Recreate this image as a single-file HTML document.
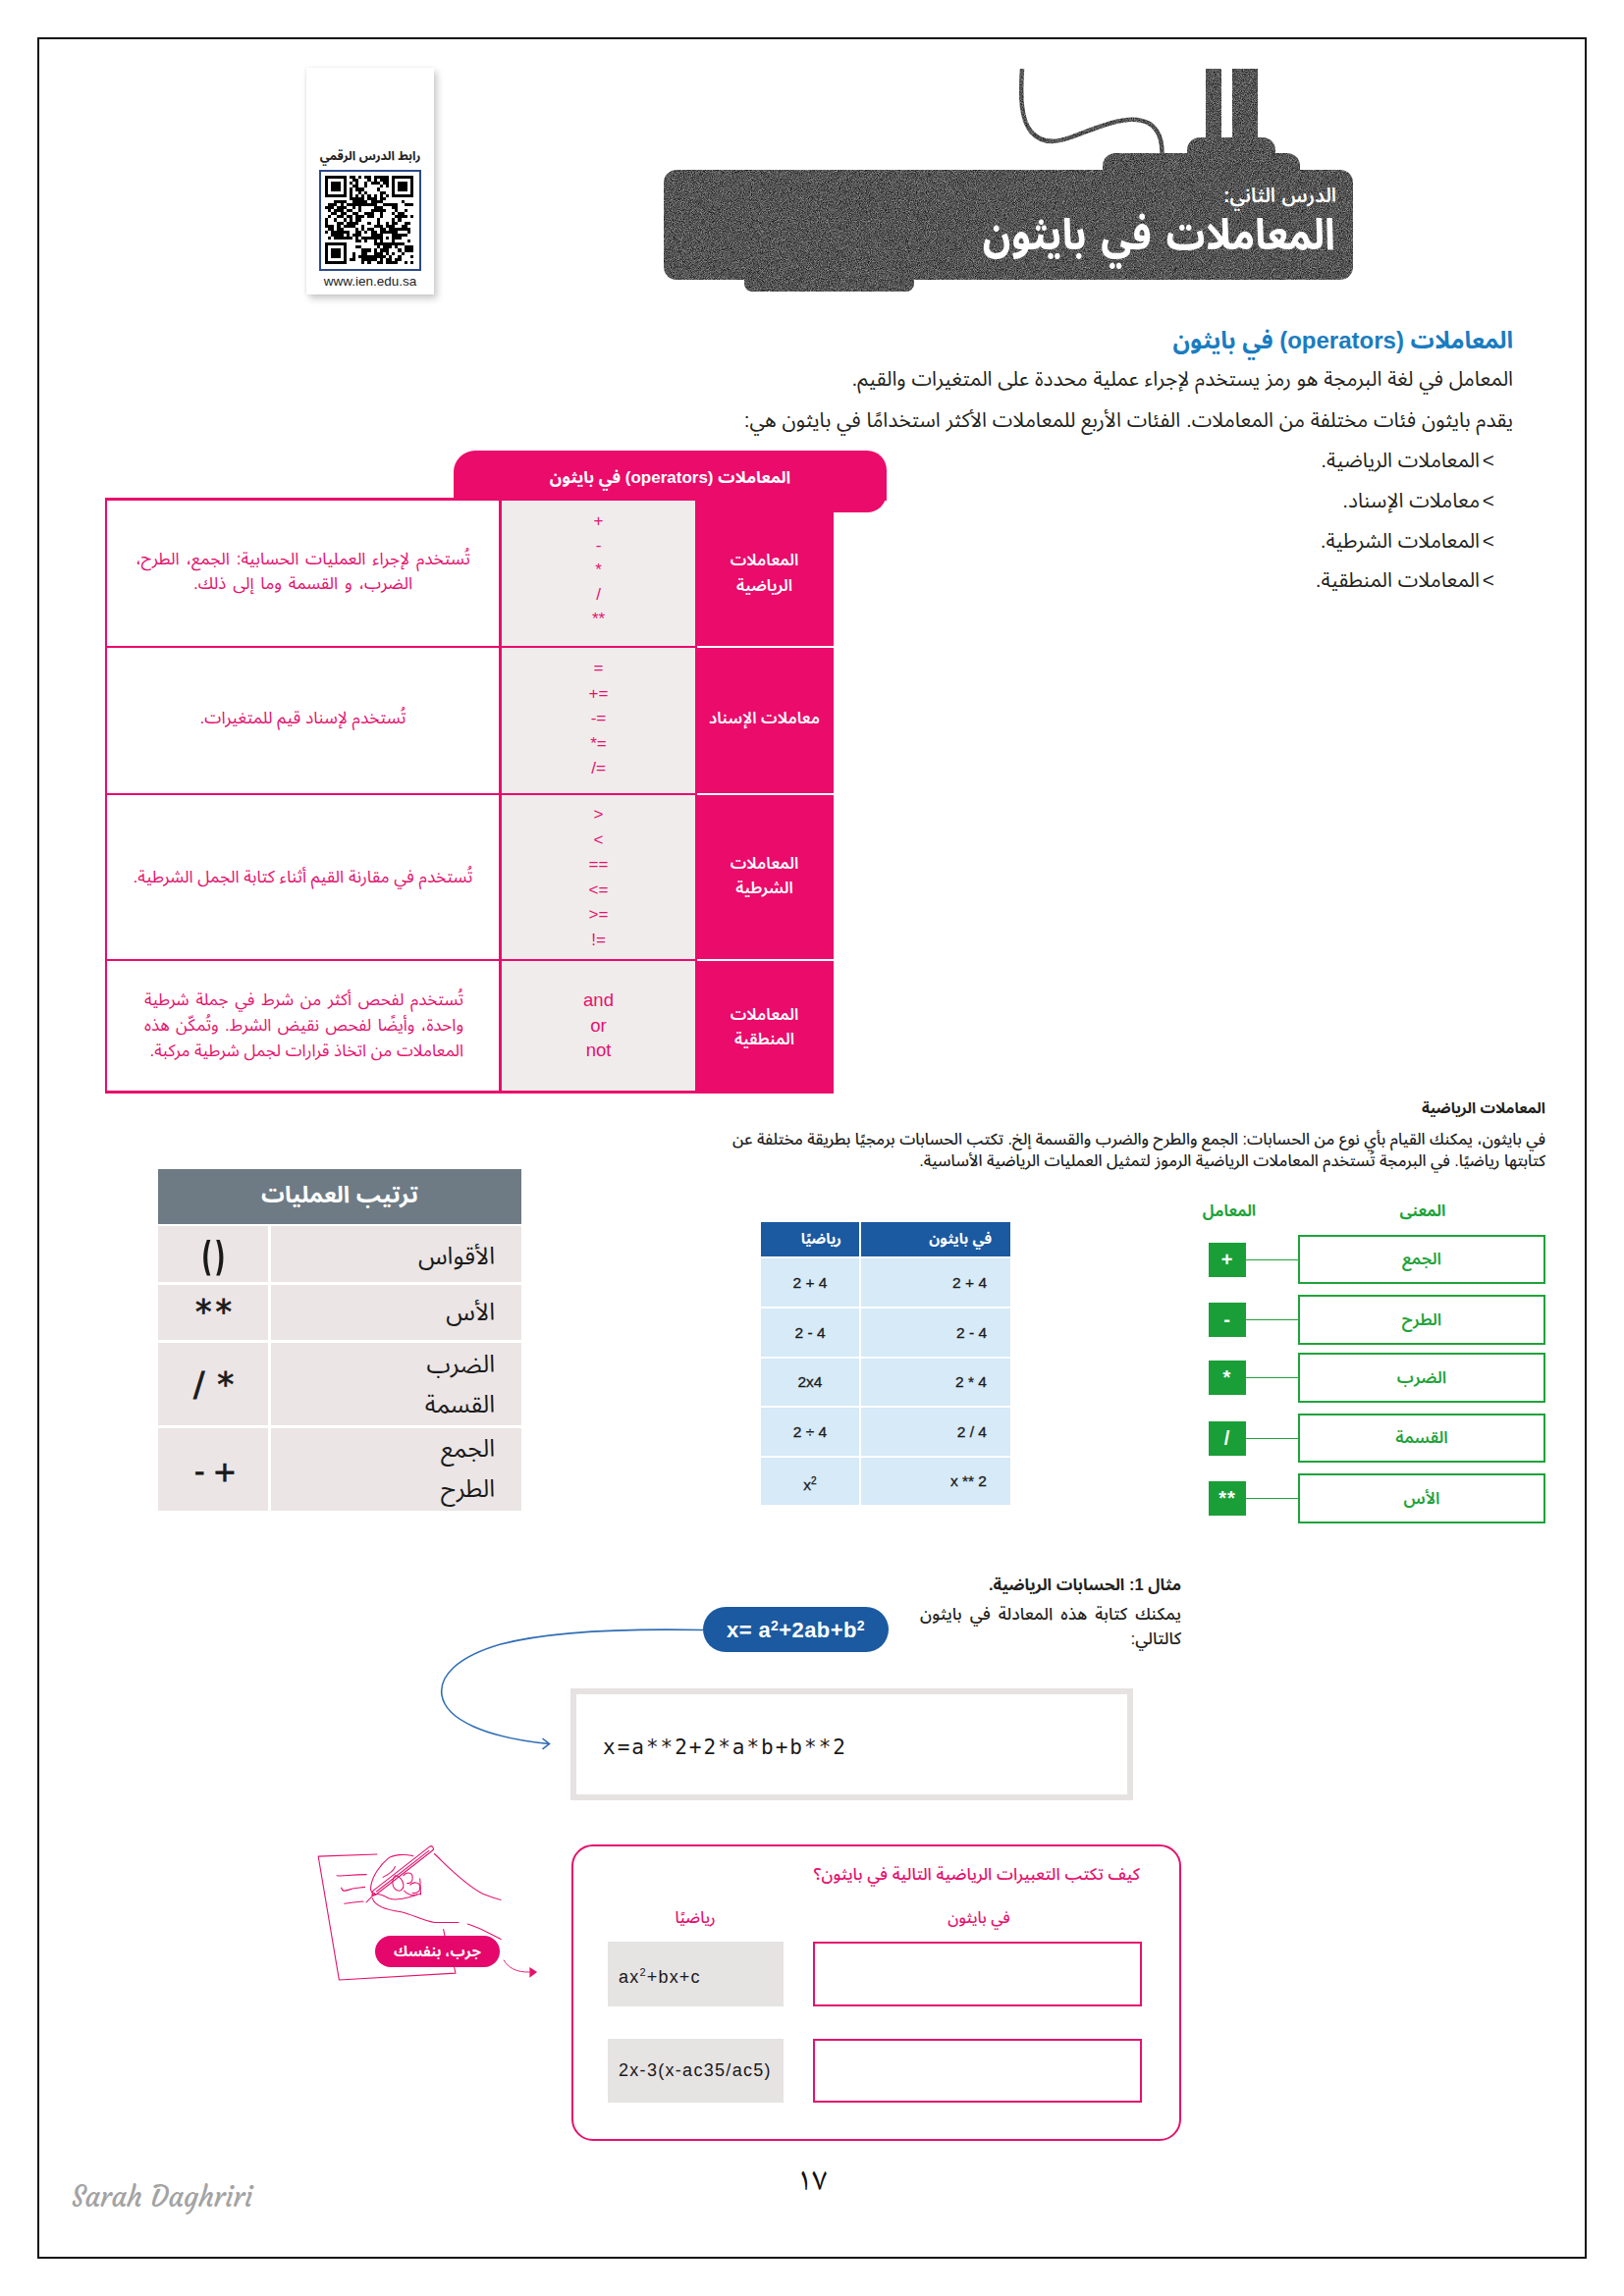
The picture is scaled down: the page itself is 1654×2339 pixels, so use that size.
<!DOCTYPE html>
<html lang="ar">
<head>
<meta charset="utf-8">
<title>المعاملات في بايثون</title>
<style>
html,body{margin:0;padding:0;background:#fff;}
body{width:1654px;height:2339px;position:relative;overflow:hidden;
  font-family:"Liberation Sans","Noto Sans Arabic","DejaVu Sans",sans-serif;color:#231f20;}
.a{position:absolute;white-space:nowrap;}
.r{direction:rtl;}
.b{font-weight:bold;}
.frame{position:absolute;left:38px;top:38px;width:1574px;height:2259px;border:2px solid #141414;}
.qr{position:absolute;left:312px;top:69px;width:130px;height:231px;background:#fff;
  box-shadow:3px 4px 7px rgba(0,0,0,.22),-1px 0 3px rgba(0,0,0,.06);}
.pk{color:#e5116d;}
</style>
</head>
<body>
<div class="frame"></div>

<!-- QR card -->
<div class="qr"></div>
<div class="a r b" style="left:312px;width:130px;top:150px;font-size:12.5px;line-height:18px;text-align:center;color:#222;">رابط الدرس الرقمي</div>
<div class="a" style="left:325px;top:173px;width:100px;height:99px;border:2px solid #2b4a8b;background:#fff;"></div>
<svg class="a" style="left:331px;top:179px" width="90" height="90" viewBox="0 0 29 29" shape-rendering="crispEdges" id="qrsvg"><path fill="#000" d="M0 0h7v1h-7zM8 0h2v1h-2zM11 0h1v1h-1zM13 0h2v1h-2zM16 0h5v1h-5zM22 0h7v1h-7zM0 1h1v1h-1zM6 1h1v1h-1zM9 1h2v1h-2zM14 1h1v1h-1zM16 1h1v1h-1zM18 1h3v1h-3zM22 1h1v1h-1zM28 1h1v1h-1zM0 2h1v1h-1zM2 2h3v1h-3zM6 2h1v1h-1zM8 2h1v1h-1zM10 2h1v1h-1zM13 2h1v1h-1zM15 2h3v1h-3zM19 2h2v1h-2zM22 2h1v1h-1zM24 2h3v1h-3zM28 2h1v1h-1zM0 3h1v1h-1zM2 3h3v1h-3zM6 3h1v1h-1zM9 3h2v1h-2zM13 3h1v1h-1zM18 3h1v1h-1zM20 3h1v1h-1zM22 3h1v1h-1zM24 3h3v1h-3zM28 3h1v1h-1zM0 4h1v1h-1zM2 4h3v1h-3zM6 4h1v1h-1zM8 4h1v1h-1zM10 4h3v1h-3zM17 4h1v1h-1zM22 4h1v1h-1zM24 4h3v1h-3zM28 4h1v1h-1zM0 5h1v1h-1zM6 5h1v1h-1zM8 5h1v1h-1zM11 5h1v1h-1zM13 5h1v1h-1zM18 5h2v1h-2zM22 5h1v1h-1zM28 5h1v1h-1zM0 6h7v1h-7zM8 6h1v1h-1zM10 6h1v1h-1zM12 6h1v1h-1zM14 6h1v1h-1zM16 6h1v1h-1zM18 6h1v1h-1zM20 6h1v1h-1zM22 6h7v1h-7zM8 7h5v1h-5zM14 7h3v1h-3zM18 7h2v1h-2zM3 8h4v1h-4zM9 8h5v1h-5zM15 8h4v1h-4zM25 8h1v1h-1zM1 9h3v1h-3zM5 9h1v1h-1zM7 9h10v1h-10zM19 9h5v1h-5zM26 9h3v1h-3zM0 10h3v1h-3zM4 10h3v1h-3zM9 10h1v1h-1zM11 10h1v1h-1zM16 10h3v1h-3zM22 10h2v1h-2zM1 11h1v1h-1zM3 11h3v1h-3zM7 11h2v1h-2zM11 11h1v1h-1zM15 11h5v1h-5zM23 11h1v1h-1zM26 11h1v1h-1zM2 12h2v1h-2zM5 12h2v1h-2zM9 12h2v1h-2zM13 12h3v1h-3zM18 12h1v1h-1zM22 12h1v1h-1zM24 12h2v1h-2zM1 13h1v1h-1zM4 13h2v1h-2zM7 13h2v1h-2zM10 13h3v1h-3zM14 13h2v1h-2zM18 13h1v1h-1zM23 13h4v1h-4zM28 13h1v1h-1zM0 14h1v1h-1zM3 14h1v1h-1zM6 14h1v1h-1zM8 14h1v1h-1zM10 14h2v1h-2zM17 14h1v1h-1zM22 14h1v1h-1zM24 14h1v1h-1zM0 15h1v1h-1zM4 15h2v1h-2zM7 15h4v1h-4zM14 15h1v1h-1zM17 15h1v1h-1zM20 15h1v1h-1zM22 15h2v1h-2zM26 15h2v1h-2zM0 16h3v1h-3zM4 16h1v1h-1zM6 16h4v1h-4zM12 16h1v1h-1zM16 16h3v1h-3zM20 16h3v1h-3zM25 16h2v1h-2zM1 17h2v1h-2zM4 17h2v1h-2zM10 17h1v1h-1zM12 17h1v1h-1zM14 17h2v1h-2zM18 17h2v1h-2zM21 17h7v1h-7zM0 18h1v1h-1zM2 18h6v1h-6zM10 18h2v1h-2zM13 18h1v1h-1zM15 18h2v1h-2zM18 18h6v1h-6zM27 18h1v1h-1zM2 19h4v1h-4zM7 19h1v1h-1zM9 19h3v1h-3zM15 19h4v1h-4zM22 19h5v1h-5zM1 20h1v1h-1zM3 20h6v1h-6zM10 20h1v1h-1zM12 20h7v1h-7zM20 20h1v1h-1zM22 20h3v1h-3zM10 21h2v1h-2zM13 21h1v1h-1zM16 21h1v1h-1zM18 21h1v1h-1zM22 21h1v1h-1zM27 21h1v1h-1zM0 22h7v1h-7zM16 22h10v1h-10zM0 23h1v1h-1zM6 23h1v1h-1zM10 23h2v1h-2zM17 23h1v1h-1zM19 23h3v1h-3zM23 23h1v1h-1zM26 23h3v1h-3zM0 24h1v1h-1zM2 24h3v1h-3zM6 24h1v1h-1zM12 24h3v1h-3zM16 24h1v1h-1zM18 24h3v1h-3zM24 24h1v1h-1zM26 24h3v1h-3zM0 25h1v1h-1zM2 25h3v1h-3zM6 25h1v1h-1zM9 25h1v1h-1zM12 25h2v1h-2zM16 25h3v1h-3zM20 25h1v1h-1zM22 25h1v1h-1zM25 25h1v1h-1zM0 26h1v1h-1zM2 26h3v1h-3zM6 26h1v1h-1zM9 26h1v1h-1zM11 26h9v1h-9zM21 26h1v1h-1zM24 26h1v1h-1zM28 26h1v1h-1zM0 27h1v1h-1zM6 27h1v1h-1zM8 27h2v1h-2zM12 27h5v1h-5zM18 27h1v1h-1zM20 27h2v1h-2zM23 27h2v1h-2zM0 28h7v1h-7zM12 28h1v1h-1zM14 28h1v1h-1zM17 28h2v1h-2zM20 28h4v1h-4zM26 28h1v1h-1zM28 28h1v1h-1z"/></svg>
<div class="a" style="left:312px;width:130px;top:277px;font-size:13.5px;line-height:20px;text-align:center;color:#222;">www.ien.edu.sa</div>

<!-- Banner -->
<svg class="a" style="left:0;top:0" width="1654" height="320">
  <defs>
    <filter id="noise" x="0" y="0" width="100%" height="100%" color-interpolation-filters="sRGB">
      <feTurbulence type="fractalNoise" baseFrequency="1.1" numOctaves="2" seed="5" result="t"/>
      <feColorMatrix in="t" type="matrix" values="0.8 0 0 0 -0.07  0.8 0 0 0 -0.07  0.8 0 0 0 -0.07  0 0 0 0 1" result="n"/>
      <feComposite in="n" in2="SourceGraphic" operator="in"/>
    </filter>
  </defs>
  <g fill="#4a4a4a" filter="url(#noise)">
    <rect x="676" y="173" width="702" height="112" rx="13"/>
    <rect x="758" y="250" width="173" height="47" rx="8"/>
    <rect x="1123" y="156" width="201" height="40" rx="13"/>
    <rect x="1209" y="140" width="90" height="40" rx="13"/>
    <rect x="1228" y="70" width="16" height="80"/>
    <rect x="1255" y="70" width="26" height="80"/>
    <path d="M1183.5 158 C1184 140 1178 124 1158 122 C1138 120 1110 133 1090 140 C1074 146 1060 146 1050 134 C1040 122 1039 100 1041 70" fill="none" stroke="#4a4a4a" stroke-width="4.5"/>
  </g>
</svg>
<div class="a r" style="right:293px;top:185px;font-size:20px;line-height:28px;word-spacing:1px;font-weight:600;color:#fff;">الدرس الثاني:</div>
<div class="a r b" style="right:294px;top:211px;font-size:44px;line-height:56px;word-spacing:4px;transform:scaleX(0.9);transform-origin:100% 50%;color:#fff;">المعاملات في بايثون</div>

<!-- Intro text -->
<div class="a r b" style="right:113px;top:331px;font-size:24px;line-height:32px;color:#1a7cc1;">المعاملات (operators) في بايثون</div>
<div class="a r" style="right:113px;top:371px;font-size:20.8px;line-height:30px;">المعامل في لغة البرمجة هو رمز يستخدم لإجراء عملية محددة على المتغيرات والقيم.</div>
<div class="a r" style="right:113px;top:413px;font-size:20.8px;line-height:30px;">يقدم بايثون فئات مختلفة من المعاملات. الفئات الأربع للمعاملات الأكثر استخدامًا في بايثون هي:</div>
<div class="a r" style="right:132px;top:454px;font-size:20.8px;line-height:30px;"><span style="margin-left:-3px">&gt; </span>المعاملات الرياضية.</div>
<div class="a r" style="right:132px;top:495px;font-size:20.8px;line-height:30px;"><span style="margin-left:-3px">&gt; </span>معاملات الإسناد.</div>
<div class="a r" style="right:132px;top:536px;font-size:20.8px;line-height:30px;"><span style="margin-left:-3px">&gt; </span>المعاملات الشرطية.</div>
<div class="a r" style="right:132px;top:576px;font-size:20.8px;line-height:30px;"><span style="margin-left:-3px">&gt; </span>المعاملات المنطقية.</div>


<!-- PINK TABLE -->
<div class="a" style="left:462px;top:459px;width:441px;height:51px;background:#eb0b6b;border-radius:22px 20px 0 0;"></div>
<div class="a" style="left:840px;top:480px;width:63px;height:42px;background:#eb0b6b;border-radius:0 0 20px 0;"></div>
<div class="a r b" style="left:462px;width:441px;top:474px;font-size:17px;line-height:26px;text-align:center;color:#fff;">المعاملات (operators) في بايثون</div>
<div class="a" style="left:107px;top:507px;width:741px;height:3px;background:#eb0b6b;"></div>
<div class="a" style="left:107px;top:507px;width:2px;height:607px;background:#eb0b6b;"></div>
<div class="a" style="left:508px;top:507px;width:3px;height:607px;background:#eb0b6b;"></div>
<div class="a" style="left:107px;top:1111px;width:742px;height:3px;background:#eb0b6b;"></div>
<div class="a" style="left:511px;top:510px;width:197px;height:601px;background:#f0ecec;"></div>
<div class="a" style="left:708px;top:510px;width:141px;height:603px;background:#eb0b6b;"></div>
<div class="a" style="left:107px;top:658px;width:603px;height:2px;background:#eb0b6b;"></div>
<div class="a" style="left:710px;top:658px;width:139px;height:2px;background:#fff;"></div>
<div class="a" style="left:107px;top:808px;width:603px;height:2px;background:#eb0b6b;"></div>
<div class="a" style="left:710px;top:808px;width:139px;height:2px;background:#fff;"></div>
<div class="a" style="left:107px;top:977px;width:603px;height:2px;background:#eb0b6b;"></div>
<div class="a" style="left:710px;top:977px;width:139px;height:2px;background:#fff;"></div>

<div class="a r b" style="left:708px;width:141px;top:557px;font-size:16.5px;font-weight:600;line-height:26px;text-align:center;color:#fff;">المعاملات<br>الرياضية</div>
<div class="a r b" style="left:708px;width:141px;top:718px;font-size:16.5px;font-weight:600;line-height:26px;text-align:center;color:#fff;">معاملات الإسناد</div>
<div class="a r b" style="left:708px;width:141px;top:867px;font-size:16.5px;font-weight:600;line-height:25px;text-align:center;color:#fff;">المعاملات<br>الشرطية</div>
<div class="a r b" style="left:708px;width:141px;top:1021px;font-size:16.5px;font-weight:600;line-height:25px;text-align:center;color:#fff;">المعاملات<br>المنطقية</div>

<div class="a pk" style="left:511px;width:197px;top:518px;font-size:17px;line-height:25px;text-align:center;">+<br>-<br>*<br>/<br>**</div>
<div class="a pk" style="left:511px;width:197px;top:668px;font-size:17px;line-height:25.5px;text-align:center;">=<br>+=<br>-=<br>*=<br>/=</div>
<div class="a pk" style="left:511px;width:197px;top:817px;font-size:17px;line-height:25.5px;text-align:center;">&gt;<br>&lt;<br>==<br>&lt;=<br>&gt;=<br>!=</div>
<div class="a" style="left:511px;width:197px;top:1006px;font-size:18.5px;line-height:25.5px;text-align:center;color:#e5116d;">and<br>or<br>not</div>

<div class="a r pk" style="left:109px;width:399px;top:557px;font-size:17.3px;line-height:25px;word-spacing:2px;text-align:center;">تُستخدم لإجراء العمليات الحسابية: الجمع، الطرح،<br>الضرب، و القسمة وما إلى ذلك.</div>
<div class="a r pk" style="left:109px;width:399px;top:718px;font-size:17.3px;line-height:26px;text-align:center;">تُستخدم لإسناد قيم للمتغيرات.</div>
<div class="a r pk" style="left:109px;width:399px;top:880px;font-size:17.3px;line-height:26px;text-align:center;">تُستخدم في مقارنة القيم أثناء كتابة الجمل الشرطية.</div>
<div class="a r pk" style="right:1182px;top:1006px;font-size:17px;line-height:26px;">
<div style="text-align:justify;text-align-last:justify;width:325px;">تُستخدم لفحص أكثر من شرط في جملة شرطية</div>
<div style="text-align:justify;text-align-last:justify;width:325px;">واحدة، وأيضًا لفحص نقيض الشرط. وتُمكّن هذه</div>
<div style="text-align:right;width:325px;">المعاملات من اتخاذ قرارات لجمل شرطية مركبة.</div>
</div>


<!-- MATH OPERATORS SECTION -->
<div class="a r b" style="right:80px;top:1118px;font-size:15.3px;line-height:22px;">المعاملات الرياضية</div>
<div class="a r" style="right:80px;top:1150px;font-size:16.2px;line-height:21.5px;font-weight:500;color:#1e1e1e;">
<div style="width:826px;text-align:justify;text-align-last:justify;">في بايثون، يمكنك القيام بأي نوع من الحسابات: الجمع والطرح والضرب والقسمة إلخ. تكتب الحسابات برمجيًا بطريقة مختلفة عن</div>
<div>كتابتها رياضيًا. في البرمجة تُستخدم المعاملات الرياضية الرموز لتمثيل العمليات الرياضية الأساسية.</div>
</div>

<!-- ORDER OF OPERATIONS -->
<div class="a" style="left:161px;top:1191px;width:370px;height:56px;background:#6e7b85;"></div>
<div class="a r b" style="left:161px;width:370px;top:1200px;font-size:23.5px;line-height:34px;text-align:center;color:#fff;">ترتيب العمليات</div>
<div class="a" style="left:161px;top:1249px;width:112px;height:57px;background:#ebe5e5;"></div>
<div class="a" style="left:276px;top:1249px;width:255px;height:57px;background:#ebe5e5;"></div>
<div class="a" style="left:161px;top:1309px;width:112px;height:56px;background:#ebe5e5;"></div>
<div class="a" style="left:276px;top:1309px;width:255px;height:56px;background:#ebe5e5;"></div>
<div class="a" style="left:161px;top:1368px;width:112px;height:84px;background:#ebe5e5;"></div>
<div class="a" style="left:276px;top:1368px;width:255px;height:84px;background:#ebe5e5;"></div>
<div class="a" style="left:161px;top:1455px;width:112px;height:84px;background:#ebe5e5;"></div>
<div class="a" style="left:276px;top:1455px;width:255px;height:84px;background:#ebe5e5;"></div>
<div class="a r" style="right:1150px;top:1262px;font-size:24.5px;line-height:36px;color:#1a1a1a;">الأقواس</div>
<div class="a r" style="right:1150px;top:1319px;font-size:24.5px;line-height:36px;color:#1a1a1a;">الأس</div>
<div class="a r" style="right:1150px;top:1369px;font-size:24.5px;line-height:41px;color:#1a1a1a;">الضرب<br>القسمة</div>
<div class="a r" style="right:1150px;top:1455px;font-size:24.5px;line-height:41px;color:#1a1a1a;">الجمع<br>الطرح</div>
<div class="a" style="left:205px;top:1254px;font-family:'DejaVu Sans',sans-serif;font-size:40px;line-height:52px;letter-spacing:3px;transform:scaleX(0.62);transform-origin:0 50%;font-weight:bold;color:#1a1a1a;">()</div>
<div class="a" style="left:199px;top:1315px;font-family:'DejaVu Sans',sans-serif;font-size:33px;line-height:44px;letter-spacing:4px;color:#1a1a1a;-webkit-text-stroke:0.8px #1a1a1a;">**</div>
<div class="a" style="left:197px;top:1388px;font-family:'DejaVu Sans',sans-serif;font-size:34px;line-height:44px;word-spacing:2px;color:#1a1a1a;-webkit-text-stroke:0.8px #1a1a1a;">/ *</div>
<div class="a" style="left:198px;top:1477px;font-family:'DejaVu Sans',sans-serif;font-size:29px;line-height:44px;word-spacing:-1px;color:#1a1a1a;-webkit-text-stroke:0.8px #1a1a1a;">- +</div>

<!-- BLUE TABLE -->
<div class="a" style="left:775px;top:1245px;width:100px;height:35px;background:#1b5aa0;"></div>
<div class="a" style="left:877px;top:1245px;width:152px;height:35px;background:#1b5aa0;"></div>
<div class="a r b" style="right:644px;top:1250px;font-size:15px;line-height:24px;color:#fff;">في بايثون</div>
<div class="a r b" style="right:797px;top:1250px;font-size:15px;line-height:24px;color:#fff;">رياضيًا</div>
<div class="a" style="left:775px;top:1282px;width:100px;height:49px;background:#d6eaf8;"></div>
<div class="a" style="left:877px;top:1282px;width:152px;height:49px;background:#d6eaf8;"></div>
<div class="a" style="right:649px;top:1282px;height:49px;font-size:15.5px;-webkit-text-stroke:0.3px #1a1a1a;line-height:49px;color:#1a1a1a;">2 + 4</div>
<div class="a" style="left:775px;width:100px;top:1282px;height:49px;font-size:15.5px;-webkit-text-stroke:0.3px #1a1a1a;line-height:49px;text-align:center;color:#1a1a1a;">2 + 4</div>
<div class="a" style="left:775px;top:1333px;width:100px;height:49px;background:#d6eaf8;"></div>
<div class="a" style="left:877px;top:1333px;width:152px;height:49px;background:#d6eaf8;"></div>
<div class="a" style="right:649px;top:1333px;height:49px;font-size:15.5px;-webkit-text-stroke:0.3px #1a1a1a;line-height:49px;color:#1a1a1a;">2 - 4</div>
<div class="a" style="left:775px;width:100px;top:1333px;height:49px;font-size:15.5px;-webkit-text-stroke:0.3px #1a1a1a;line-height:49px;text-align:center;color:#1a1a1a;">2 - 4</div>
<div class="a" style="left:775px;top:1384px;width:100px;height:48px;background:#d6eaf8;"></div>
<div class="a" style="left:877px;top:1384px;width:152px;height:48px;background:#d6eaf8;"></div>
<div class="a" style="right:649px;top:1384px;height:48px;font-size:15.5px;-webkit-text-stroke:0.3px #1a1a1a;line-height:48px;color:#1a1a1a;">2 * 4</div>
<div class="a" style="left:775px;width:100px;top:1384px;height:48px;font-size:15.5px;-webkit-text-stroke:0.3px #1a1a1a;line-height:48px;text-align:center;color:#1a1a1a;">2x4</div>
<div class="a" style="left:775px;top:1434px;width:100px;height:49px;background:#d6eaf8;"></div>
<div class="a" style="left:877px;top:1434px;width:152px;height:49px;background:#d6eaf8;"></div>
<div class="a" style="right:649px;top:1434px;height:49px;font-size:15.5px;-webkit-text-stroke:0.3px #1a1a1a;line-height:49px;color:#1a1a1a;">2 / 4</div>
<div class="a" style="left:775px;width:100px;top:1434px;height:49px;font-size:15.5px;-webkit-text-stroke:0.3px #1a1a1a;line-height:49px;text-align:center;color:#1a1a1a;">2 ÷ 4</div>
<div class="a" style="left:775px;top:1485px;width:100px;height:48px;background:#d6eaf8;"></div>
<div class="a" style="left:877px;top:1485px;width:152px;height:48px;background:#d6eaf8;"></div>
<div class="a" style="right:649px;top:1485px;height:48px;font-size:15.5px;-webkit-text-stroke:0.3px #1a1a1a;line-height:48px;color:#1a1a1a;">x ** 2</div>
<div class="a" style="left:775px;width:100px;top:1485px;height:48px;font-size:15.5px;-webkit-text-stroke:0.3px #1a1a1a;line-height:48px;text-align:center;color:#1a1a1a;">x<span style="font-size:10px;vertical-align:6px">2</span></div>

<!-- GREEN DIAGRAM -->
<div class="a r b" style="left:1202px;width:100px;top:1222px;font-size:15.8px;line-height:24px;text-align:center;color:#1fa33b;">المعامل</div>
<div class="a r b" style="left:1399px;width:100px;top:1222px;font-size:16px;line-height:24px;text-align:center;color:#1fa33b;">المعنى</div>
<div class="a" style="left:1322px;top:1258px;width:248px;height:46px;border:2px solid #1fa33b;"></div>
<div class="a r b" style="left:1324px;width:248px;top:1260px;height:46px;font-size:17px;font-weight:600;line-height:46px;text-align:center;color:#1fa33b;">الجمع</div>
<div class="a" style="left:1231px;top:1266px;width:38px;height:35px;background:#1a9f38;"></div>
<div class="a b" style="left:1231px;width:38px;top:1266px;height:35px;font-size:20px;letter-spacing:1px;line-height:35px;text-align:center;color:#fff;">+</div>
<div class="a" style="left:1269px;top:1283px;width:53px;height:1px;background:#1fa33b;"></div>
<div class="a" style="left:1322px;top:1319px;width:248px;height:47px;border:2px solid #1fa33b;"></div>
<div class="a r b" style="left:1324px;width:248px;top:1321px;height:47px;font-size:17px;font-weight:600;line-height:47px;text-align:center;color:#1fa33b;">الطرح</div>
<div class="a" style="left:1231px;top:1327px;width:38px;height:35px;background:#1a9f38;"></div>
<div class="a b" style="left:1231px;width:38px;top:1327px;height:35px;font-size:20px;letter-spacing:1px;line-height:35px;text-align:center;color:#fff;">-</div>
<div class="a" style="left:1269px;top:1344px;width:53px;height:1px;background:#1fa33b;"></div>
<div class="a" style="left:1322px;top:1378px;width:248px;height:47px;border:2px solid #1fa33b;"></div>
<div class="a r b" style="left:1324px;width:248px;top:1380px;height:47px;font-size:17px;font-weight:600;line-height:47px;text-align:center;color:#1fa33b;">الضرب</div>
<div class="a" style="left:1231px;top:1386px;width:38px;height:35px;background:#1a9f38;"></div>
<div class="a b" style="left:1231px;width:38px;top:1386px;height:35px;font-size:20px;letter-spacing:1px;line-height:35px;text-align:center;color:#fff;">*</div>
<div class="a" style="left:1269px;top:1403px;width:53px;height:1px;background:#1fa33b;"></div>
<div class="a" style="left:1322px;top:1440px;width:248px;height:46px;border:2px solid #1fa33b;"></div>
<div class="a r b" style="left:1324px;width:248px;top:1442px;height:46px;font-size:17px;font-weight:600;line-height:46px;text-align:center;color:#1fa33b;">القسمة</div>
<div class="a" style="left:1231px;top:1448px;width:38px;height:35px;background:#1a9f38;"></div>
<div class="a b" style="left:1231px;width:38px;top:1448px;height:35px;font-size:20px;letter-spacing:1px;line-height:35px;text-align:center;color:#fff;">/</div>
<div class="a" style="left:1269px;top:1465px;width:53px;height:1px;background:#1fa33b;"></div>
<div class="a" style="left:1322px;top:1501px;width:248px;height:47px;border:2px solid #1fa33b;"></div>
<div class="a r b" style="left:1324px;width:248px;top:1503px;height:47px;font-size:17px;font-weight:600;line-height:47px;text-align:center;color:#1fa33b;">الأس</div>
<div class="a" style="left:1231px;top:1509px;width:38px;height:35px;background:#1a9f38;"></div>
<div class="a b" style="left:1231px;width:38px;top:1509px;height:35px;font-size:20px;letter-spacing:1px;line-height:35px;text-align:center;color:#fff;">**</div>
<div class="a" style="left:1269px;top:1526px;width:53px;height:1px;background:#1fa33b;"></div>

<!-- EXAMPLE -->
<div class="a r b" style="right:451px;top:1602px;font-size:16.5px;line-height:24px;">مثال 1: الحسابات الرياضية.</div>
<div class="a r" style="right:451px;top:1632px;font-size:17.3px;line-height:24.5px;font-weight:500;">
<div style="width:266px;text-align:justify;text-align-last:justify;">يمكنك كتابة هذه المعادلة في بايثون</div>
<div>كالتالي:</div>
</div>
<div class="a" style="left:716px;top:1637px;width:189px;height:46px;border-radius:23px;background:#1b5aa0;"></div>
<div class="a b" style="left:716px;width:189px;top:1641px;font-size:22px;line-height:30px;letter-spacing:0.4px;text-align:center;color:#fff;">x= a<span style="font-size:14px;vertical-align:7px">2</span>+2ab+b<span style="font-size:14px;vertical-align:7px">2</span></div>
<div class="a" style="left:581px;top:1720px;width:561px;height:102px;border:6px solid #e6e2e2;"></div>
<div class="a" style="left:614px;top:1764px;font-family:'DejaVu Sans Mono','Liberation Mono',monospace;font-size:21px;line-height:32px;letter-spacing:2px;color:#1a1a1a;">x=a**2+2*a*b+b**2</div>
<svg class="a" style="left:0;top:0;pointer-events:none" width="1654" height="2339">
  <path d="M716 1660.5 C640 1659 560 1662 510 1675 C465 1688 447 1708 450 1727 C454 1752 495 1770 559 1776.5" fill="none" stroke="#2f6db4" stroke-width="1.6"/>
  <path d="M552.5 1771 L559.5 1776.6 L552.5 1781.8" fill="none" stroke="#2f6db4" stroke-width="1.6"/>
</svg>

<!-- TRY YOURSELF -->
<div class="a" style="left:582px;top:1879px;width:617px;height:298px;border:2px solid #e5116d;border-radius:22px;"></div>
<div class="a r pk" style="right:493px;top:1897px;font-size:17px;line-height:26px;font-weight:500;">كيف تكتب التعبيرات الرياضية التالية في بايثون؟</div>
<div class="a r pk" style="left:897px;width:200px;top:1941px;font-size:16px;line-height:26px;font-weight:500;text-align:center;">في بايثون</div>
<div class="a r pk" style="left:608px;width:200px;top:1941px;font-size:16px;line-height:26px;font-weight:500;text-align:center;">رياضيًا</div>
<div class="a" style="left:619px;top:1978px;width:179px;height:66px;background:#e6e3e3;"></div>
<div class="a" style="left:619px;top:2077px;width:179px;height:65px;background:#e6e3e3;"></div>
<div class="a" style="left:630px;top:1976px;height:66px;font-size:18px;line-height:66px;letter-spacing:1.2px;color:#1a1a1a;">ax<span style="font-size:11px;vertical-align:7px">2</span>+bx+c</div>
<div class="a" style="left:630px;top:2077px;height:65px;font-size:18px;line-height:65px;letter-spacing:1.3px;color:#1a1a1a;">2x-3(x-ac35/ac5)</div>
<div class="a" style="left:828px;top:1978px;width:331px;height:62px;border:2px solid #e5116d;"></div>
<div class="a" style="left:828px;top:2077px;width:331px;height:61px;border:2px solid #e5116d;"></div>

<!-- HAND DRAWING -->
<svg class="a" style="left:310px;top:1860px" width="250" height="170" viewBox="0 0 1624 1104" fill="none" stroke="#e5116d" stroke-width="7" stroke-linecap="round" stroke-linejoin="round">
  <path d="M480 188 L92 202 L230 1020 L1000 975 L990 930"/>
  <path d="M920 685 L935 760"/>
  <path d="M215 330 C260 335 300 322 410 322"/>
  <path d="M245 410 C250 440 270 430 320 415 C350 408 380 410 400 405"/>
  <path d="M265 515 C300 510 340 505 390 500"/>
  <g transform="translate(452 452) rotate(-38)"><rect x="0" y="-16" width="505" height="32" rx="16"/><path d="M30 2 L470 2"/></g>
  <path d="M410 505 L445 470 L470 452"/>
  <path d="M720 200 C660 185 590 190 555 215 C500 260 450 330 440 400 C435 430 445 445 465 445"/>
  <path d="M445 460 C480 440 520 460 560 480 C620 500 690 470 770 450"/>
  <path d="M450 480 C470 540 560 560 640 570 C720 590 780 625 860 640 L1020 640"/>
  <path d="M1080 650 C1150 670 1220 710 1300 750"/>
  <path d="M860 185 C940 260 1050 380 1180 450 C1220 465 1270 485 1300 490"/>
  <path d="M600 330 C575 360 580 410 610 425 C640 440 660 415 655 385 C650 355 625 330 600 330"/>
  <path d="M655 330 C670 305 710 305 715 335 C720 365 700 385 680 380"/>
  <path d="M700 390 C720 370 760 370 765 400 C770 430 745 450 715 445"/>
  <path d="M660 430 C680 455 720 465 745 455"/>
  <path d="M765 350 L770 455"/>
  <path d="M520 340 C560 320 590 300 600 270"/>
  <path d="M1320 890 C1350 940 1400 970 1490 968" stroke-width="6"/>
  <path d="M1490 935 L1540 968 L1490 1005 Z" fill="#e5116d" stroke="none"/>
</svg>
<div class="a" style="left:382px;top:1972px;width:127px;height:32px;border-radius:16px;background:#e5076b;"></div>
<div class="a r b" style="left:382px;width:127px;top:1974px;font-size:15px;line-height:28px;text-align:center;color:#fff;">جرب، بنفسك</div>

<!-- FOOTER -->
<div class="a" style="left:812px;top:2200px;font-family:'Noto Naskh Arabic','Liberation Serif','DejaVu Sans',serif;font-size:34px;line-height:48px;letter-spacing:1.5px;color:#111;">١٧</div>
<div class="a" style="left:73px;top:2218px;font-family:'Courgette','Liberation Serif',serif;font-size:28.5px;line-height:40px;color:#a3a3a3;">Sarah Daghriri</div>

</body>
</html>
